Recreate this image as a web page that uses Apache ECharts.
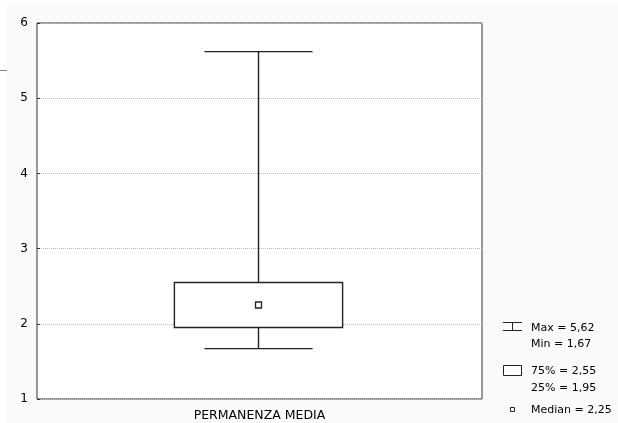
<!DOCTYPE html>
<html><head><meta charset="utf-8">
<script src="https://cdn.jsdelivr.net/npm/echarts@6/dist/echarts.min.js"></script>
<style>html,body{margin:0;padding:0;background:#fff}#c{width:618px;height:423px}</style>
</head><body><div id="c"></div>
<script>
var categories = ['PERMANENZA MEDIA'];
var maxVals = [5.62];
var minVals = [1.67];
var q3Vals = [2.55];
var q1Vals = [1.95];
var medianVals = [2.25];
var yMin = 1, yMax = 6, yStep = 1;

function fmt(v){ return v.toFixed(2).replace('.', ','); }

var seriesData = categories.map(function(c, i){
  return [i, minVals[i], q1Vals[i], medianVals[i], q3Vals[i], maxVals[i]];
});

var font = 'DejaVu Sans';
var ink = '#222';
var chart = echarts.init(document.getElementById('c'), null, {renderer:'canvas'});
chart.setOption({
  animation: false,
  textStyle: {fontFamily: font},
  grid: {left: 37, right: 136, top: 23, bottom: 24, show: true, backgroundColor: '#fff', borderColor: '#333', borderWidth: 1, z: 0},
  xAxis: {
    type: 'category', data: categories,
    axisLine: {show: false}, axisTick: {show: false},
    axisLabel: {color: '#000', fontSize: 12.5, margin: 10, fontFamily: font},
    splitLine: {show: false}
  },
  yAxis: {
    type: 'value', min: yMin, max: yMax, interval: yStep,
    axisLine: {show: false},
    axisTick: {show: true, inside: true, length: 3, lineStyle: {color: '#333'}},
    axisLabel: {color: '#000', fontSize: 12, margin: 9, fontFamily: font},
    splitLine: {show: true, lineStyle: {color: '#bbb', type: 'dotted', width: 1}}
  },
  graphic: [
    {type: 'rect', left: 7, top: 3, shape: {width: 611, height: 420}, style: {fill: '#fafafa'}, z: -10, silent: true},
    {type: 'line', shape: {x1: 0, y1: 70.5, x2: 7, y2: 70.5}, style: {stroke: '#888', lineWidth: 1}, z: 5},
    // legend: whisker icon
    {type: 'line', shape: {x1: 503, y1: 322.5, x2: 522, y2: 322.5}, style: {stroke: ink, lineWidth: 1}, z: 5},
    {type: 'line', shape: {x1: 512.5, y1: 322.5, x2: 512.5, y2: 330.5}, style: {stroke: ink, lineWidth: 1}, z: 5},
    {type: 'line', shape: {x1: 503, y1: 330.5, x2: 522, y2: 330.5}, style: {stroke: ink, lineWidth: 1}, z: 5},
    {type: 'text', left: 531, top: 323, style: {text: 'Max = ' + fmt(maxVals[0]), fill: '#000', font: '11px ' + font}, z: 5},
    {type: 'text', left: 531, top: 339, style: {text: 'Min = ' + fmt(minVals[0]), fill: '#000', font: '11px ' + font}, z: 5},
    // legend: box icon
    {type: 'rect', shape: {x: 503.5, y: 365.5, width: 18, height: 10}, style: {fill: '#fff', stroke: ink, lineWidth: 1}, z: 5},
    {type: 'text', left: 531, top: 366, style: {text: '75% = ' + fmt(q3Vals[0]), fill: '#000', font: '11px ' + font}, z: 5},
    {type: 'text', left: 531, top: 383, style: {text: '25% = ' + fmt(q1Vals[0]), fill: '#000', font: '11px ' + font}, z: 5},
    // legend: median icon
    {type: 'rect', shape: {x: 510.5, y: 407.5, width: 4, height: 4}, style: {fill: '#fff', stroke: ink, lineWidth: 1}, z: 5},
    {type: 'text', left: 531, top: 405, style: {text: 'Median = ' + fmt(medianVals[0]), fill: '#000', font: '11px ' + font}, z: 5}
  ],
  series: [{
    type: 'custom',
    data: seriesData,
    encode: {x: 0, y: [1, 2, 3, 4, 5]},
    renderItem: function(params, api){
      var idx = api.value(0);
      var band = api.size([1, 0])[0];
      var boxHalf = band * 0.189;
      var capHalf = band * 0.1215;
      var pMin = api.coord([idx, api.value(1)]);
      var pQ1 = api.coord([idx, api.value(2)]);
      var pMed = api.coord([idx, api.value(3)]);
      var pQ3 = api.coord([idx, api.value(4)]);
      var pMax = api.coord([idx, api.value(5)]);
      var cx = Math.floor(pMed[0]) - 0.5;
      var st = {stroke: ink, lineWidth: 1.4, fill: null};
      return {type: 'group', children: [
        {type: 'line', shape: {x1: cx, y1: pMax[1], x2: cx, y2: pQ3[1]}, style: st},
        {type: 'line', shape: {x1: cx, y1: pQ1[1], x2: cx, y2: pMin[1]}, style: st},
        {type: 'line', shape: {x1: cx - capHalf, y1: pMax[1], x2: cx + capHalf, y2: pMax[1]}, style: st},
        {type: 'line', shape: {x1: cx - capHalf, y1: pMin[1], x2: cx + capHalf, y2: pMin[1]}, style: st},
        {type: 'rect', shape: {x: cx - boxHalf, y: pQ3[1], width: boxHalf * 2, height: pQ1[1] - pQ3[1]}, style: {stroke: ink, lineWidth: 1.4, fill: '#fff'}},
        {type: 'rect', shape: {x: cx - 3, y: pMed[1] - 3, width: 6, height: 6}, style: {stroke: ink, lineWidth: 1.3, fill: '#fff'}}
      ]};
    }
  }]
});
</script></body></html>
